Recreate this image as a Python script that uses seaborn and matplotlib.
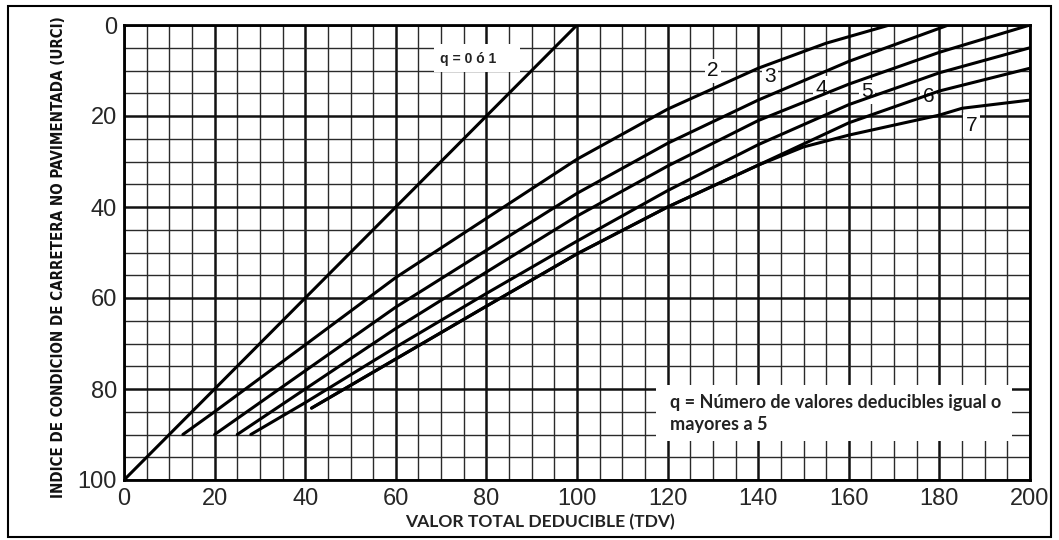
import matplotlib
matplotlib.use("Agg")
import matplotlib.pyplot as plt
import numpy as np
import pandas as pd
import seaborn as sns
from matplotlib import font_manager
from matplotlib.font_manager import FontProperties
from matplotlib.patches import Rectangle

# URCI read against total deductible value (TDV), one curve per q
tdv_q1 = [0, 100]
urci_q1 = [100, 0]
tdv_q2 = [13, 20, 40, 60, 80, 100, 120, 140, 155, 169]
urci_q2 = [90, 85, 70.3, 55.5, 42.5, 29.5, 18.5, 9.5, 4, 0]
tdv_q3 = [20, 40, 60, 80, 100, 120, 140, 160, 182]
urci_q3 = [90, 76, 62, 49.5, 37, 26, 16.5, 8, 0]
tdv_q4 = [25, 40, 60, 80, 100, 120, 140, 160, 180, 200]
urci_q4 = [90, 80, 66.7, 54.3, 42, 31, 21, 13, 6, 0]
tdv_q5 = [28, 40, 60, 80, 100, 120, 140, 160, 180, 200]
urci_q5 = [90, 83, 70.8, 59, 47.5, 36.4, 26.3, 17.5, 10.5, 5]
tdv_q6 = [41.4, 60, 80, 100, 120, 140, 160, 180, 200]
urci_q6 = [84.2, 73.4, 61.8, 50.3, 40, 30.8, 21.5, 14.5, 9.5]
tdv_q7 = [41.4, 60, 80, 100, 120, 140, 150, 160, 180, 185, 200]
urci_q7 = [84.2, 73.4, 61.8, 50.3, 40, 30.8, 26.8, 24.2, 19.8, 18.3, 16.5]

q_names = ["1", "2", "3", "4", "5", "6", "7"]
curve_labels = ["2", "3", "4", "5", "6", "7"]
curve_label_tdv = [130, 142.6, 154, 164, 177.6, 187.1]
curve_label_urci = [10, 11.4, 13.9, 14.7, 15.8, 22]

x_ticks = [0, 20, 40, 60, 80, 100, 120, 140, 160, 180, 200]
y_ticks = [0, 20, 40, 60, 80, 100]

frames = []
for name, xs, ys in zip(q_names,
                        [tdv_q1, tdv_q2, tdv_q3, tdv_q4, tdv_q5, tdv_q6, tdv_q7],
                        [urci_q1, urci_q2, urci_q3, urci_q4, urci_q5, urci_q6, urci_q7]):
    frames.append(pd.DataFrame({"tdv": xs, "urci": ys, "q": name}))
curves = pd.concat(frames, ignore_index=True)

sns.set_style("white")
plt.rcParams["font.family"] = ["Liberation Sans", "DejaVu Sans"]


def condensed_bold():
    """Pick a narrow bold face for the long vertical title, if one is installed."""
    narrow_words = ("condensed", "narrow", "compressed")
    best = None
    for f in font_manager.fontManager.ttflist:
        stretch = str(f.stretch).lower()
        fname = f.fname.lower()
        name = f.name.lower()
        is_narrow = (any(w in stretch for w in narrow_words) and "semi" not in stretch) or \
            any(w in fname for w in narrow_words) or any(w in name for w in narrow_words)
        if not is_narrow:
            continue
        w = f.weight if isinstance(f.weight, int) else (700 if "bold" in str(f.weight) else 400)
        score = (w >= 600, "sans" in name)
        if best is None or score > best[0]:
            best = (score, f.fname)
    if best is None:
        return FontProperties(family="DejaVu Sans", weight="bold")
    return FontProperties(fname=best[1])


fig = plt.figure(figsize=(10.59, 5.40), dpi=100)
ax = fig.add_axes([124 / 1059, 1 - 480 / 540, (1030 - 124) / 1059, (480 - 25) / 540])

# graph-paper grid
ax.set_xlim(0, 200)
ax.set_ylim(100, 0)
ax.set_xticks(x_ticks)
ax.set_yticks(y_ticks)
ax.set_xticks(np.arange(0, 201, 5), minor=True)
ax.set_yticks(np.arange(0, 101, 5), minor=True)
ax.grid(True, which="major", color="#111111", linewidth=1.8, zorder=0)
ax.grid(True, which="minor", color="#2a2a2a", linewidth=1.0, zorder=0)
ax.set_axisbelow(True)
for s in ax.spines.values():
    s.set_color("black")
    s.set_linewidth(2.0)
ax.tick_params(which="both", length=0)
ax.tick_params(axis="x", labelsize=17, pad=6)
ax.tick_params(axis="y", labelsize=17, pad=5)

sns.lineplot(data=curves, x="tdv", y="urci", hue="q", units="q", estimator=None,
             palette=["black"] * len(q_names), linewidth=2.2, legend=False,
             sort=False, ax=ax, zorder=3)
ax.set_xlabel("")
ax.set_ylabel("")

# white patches for the annotations
ax.add_patch(Rectangle((68.5, 4.2), 19, 6.2, facecolor="white", edgecolor="none", zorder=2))
ax.add_patch(Rectangle((117.5, 79.2), 78.5, 12.3, facecolor="white", edgecolor="none", zorder=2))

ax.text(75.9, 7.4, "q = 0 ó 1", fontsize=10, fontweight="bold", ha="center", va="center",
        color="#222222", zorder=4)

for lab, x, y in zip(curve_labels, curve_label_tdv, curve_label_urci):
    ax.text(x, y, lab, fontsize=15, ha="center", va="center", color="#111111", zorder=2.5,
            bbox=dict(boxstyle="square,pad=0.12", facecolor="white", edgecolor="none"))

note1 = ax.text(120.5, 82.9, "q = Número de valores deducibles igual o", fontsize=12,
                family=["Lato", "DejaVu Sans"], fontweight="bold", color="#222222",
                ha="left", va="center", zorder=4)
note2 = ax.text(120.5, 87.8, "mayores a 5", fontsize=12, family=["Lato", "DejaVu Sans"],
                fontweight="bold", color="#222222", ha="left", va="center", zorder=4)

xlab = fig.text(540 / 1059, 1 - 522 / 540, "VALOR TOTAL DEDUCIBLE (TDV)", fontsize=12,
                family=["Lato", "DejaVu Sans"], fontweight="bold", color="#222222",
                ha="center", va="center")
ylab = fig.text(59 / 1059, 1 - 257 / 540,
                "INDICE DE CONDICION DE CARRETERA NO PAVIMENTADA (URCI)",
                fontproperties=condensed_bold(), color="#111111",
                rotation=90, ha="center", va="center")
ylab.set_fontsize(12)

# size the axis titles and the note to their printed lengths
fig.canvas.draw()
renderer = fig.canvas.get_renderer()
for t, target, vertical in [(note1, 330, False), (xlab, 270, False), (ylab, 481, True)]:
    bb = t.get_window_extent(renderer)
    cur = bb.height if vertical else bb.width
    t.set_fontsize(t.get_fontsize() * target / cur)
note2.set_fontsize(note1.get_fontsize())

# outer frame of the figure
fig.patches.append(Rectangle((8 / 1059, 3 / 540), (1051 - 8) / 1059, (534 - 3) / 540,
                             transform=fig.transFigure, fill=False, edgecolor="black",
                             linewidth=1.5))

fig.savefig("out.png", dpi=100)
